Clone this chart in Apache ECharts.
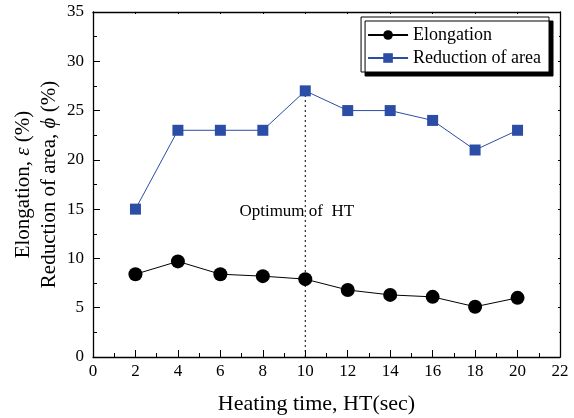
<!DOCTYPE html>
<html>
<head>
<meta charset="utf-8">
<script src="https://cdn.jsdelivr.net/npm/echarts@6/dist/echarts.min.js"></script>
<style>
  html, body { margin: 0; padding: 0; background: #fff; }
  #chart { width: 574px; height: 418px; }
</style>
</head>
<body>
<div id="chart"></div>
<script>
// Heating time (sec)
const heatingTime = [2, 4, 6, 8, 10, 12, 14, 16, 18, 20];
// Elongation (%)
const elongation = [8.4, 9.7, 8.4, 8.2, 7.9, 6.8, 6.3, 6.1, 5.1, 6.0];
// Reduction of area (%)
const reductionOfArea = [15, 23, 23, 23, 27, 25, 25, 24, 21, 23];
// Optimum heating time marker
const optimumHT = 10;
const optimumLabel = 'Optimum of  HT';

const FONT = '"Liberation Serif", "DejaVu Serif", serif';
const BLUE = '#2C4DA6';

const chart = echarts.init(document.getElementById('chart'), null, { renderer: 'canvas' });

const pairs = (ys) => heatingTime.map((x, i) => [x, ys[i]]);
const optIdx = heatingTime.indexOf(optimumHT);

const tickStyle = (len) => ({ show: true, inside: true, length: len, lineStyle: { color: '#000', width: 1 } });
const minorStyle = (len) => ({ show: true, splitNumber: 2, length: len, lineStyle: { color: '#000', width: 1 } });
const frameLine = () => ({ show: true, onZero: false, lineStyle: { color: '#000', width: 1.3 } });

chart.setOption({
  backgroundColor: '#fff',
  animation: false,
  grid: { left: 93, right: 14, top: 12, bottom: 61, containLabel: false, outerBoundsMode: 'none' },
  legend: {
    right: 25, top: 17,
    orient: 'vertical',
    itemGap: 5,
    itemWidth: 40,
    itemHeight: 12,
    padding: [9, 8, 5, 6],
    borderColor: '#000',
    borderWidth: 1,
    backgroundColor: '#fff',
    shadowColor: '#000',
    shadowOffsetX: 4,
    shadowOffsetY: 4,
    shadowBlur: 0,
    textStyle: { fontFamily: FONT, fontSize: 18, color: '#000' },
    data: ['Elongation', 'Reduction of area']
  },
  xAxis: [{
    type: 'value', min: 0, max: 22, interval: 2,
    name: 'Heating time, HT(sec)',
    nameLocation: 'middle', nameGap: 36,
    nameTextStyle: { fontFamily: FONT, fontSize: 22, color: '#000', padding: [0, 20, 0, 0] },
    axisLine: frameLine(),
    axisTick: tickStyle(7),
    minorTick: minorStyle(4),
    splitLine: { show: false },
    axisLabel: { fontFamily: FONT, fontSize: 17, color: '#000', margin: 6 }
  }, {
    type: 'value', min: 0, max: 22, interval: 2, position: 'top',
    axisLine: frameLine(),
    axisTick: tickStyle(2),
    minorTick: minorStyle(1),
    splitLine: { show: false },
    axisLabel: { show: false }
  }],
  yAxis: [{
    type: 'value', min: 0, max: 35, interval: 5,
    name: '{a|Elongation, }{i|ε}{a| (%)}\n{a|Reduction of area, }{i|ϕ}{a| (%)}',
    nameLocation: 'middle', nameGap: 31, nameRotate: 90,
    nameMoveOverlap: false,
    nameTextStyle: {
      fontFamily: FONT, fontSize: 21, color: '#000', lineHeight: 26,
      rich: {
        a: { fontFamily: FONT, fontSize: 21, color: '#000', lineHeight: 26 },
        i: { fontFamily: FONT, fontSize: 21, color: '#000', fontStyle: 'italic', lineHeight: 26 }
      }
    },
    axisLine: frameLine(),
    axisTick: tickStyle(7),
    minorTick: minorStyle(4),
    splitLine: { show: false },
    axisLabel: { fontFamily: FONT, fontSize: 17, color: '#000', margin: 9 }
  }, {
    type: 'value', min: 0, max: 35, interval: 5, position: 'right',
    axisLine: frameLine(),
    axisTick: tickStyle(2),
    minorTick: minorStyle(1),
    splitLine: { show: false },
    axisLabel: { show: false }
  }],
  series: [{
    name: 'Elongation',
    type: 'line',
    data: pairs(elongation),
    symbol: 'circle', symbolSize: 14,
    itemStyle: { color: '#000' },
    lineStyle: { color: '#000', width: 1 },
    z: 3
  }, {
    name: 'Reduction of area',
    type: 'line',
    data: pairs(reductionOfArea),
    symbol: 'rect', symbolSize: 11,
    itemStyle: { color: BLUE },
    lineStyle: { color: BLUE, width: 1 },
    z: 3
  }, {
    // dotted guide at the optimum heating time, running down from the peak
    name: 'optimum',
    type: 'line',
    data: [[optimumHT, 0], [optimumHT, reductionOfArea[optIdx]]],
    symbol: 'none',
    lineStyle: { color: '#000', width: 1, type: [2, 3] },
    z: 1,
    silent: true,
    markPoint: {
      symbol: 'rect', symbolSize: 0,
      label: {
        show: true, formatter: optimumLabel,
        fontFamily: FONT, fontSize: 17, color: '#000'
      },
      data: [{ coord: [9.6, 14.8] }]
    }
  }]
});
</script>
</body>
</html>
